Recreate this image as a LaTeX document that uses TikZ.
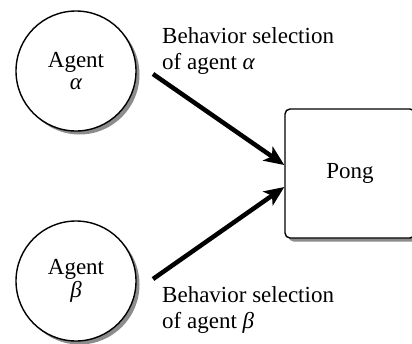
\documentclass[tikz,border=0pt]{standalone}
\usepackage{fontspec}
\setmainfont{Liberation Serif}
\usetikzlibrary{arrows.meta,shadows}
\begin{document}
\begin{tikzpicture}[x=1pt,y=-1pt,
  every node/.style={font=\fontsize{23}{26.5}\selectfont},
  shad/.style={drop shadow={shadow xshift=3.5pt,shadow yshift=-3.5pt,fill=black!45,opacity=1}},
  agent/.style={circle,draw,line width=1.4pt,fill=white,minimum size=120pt,inner sep=0pt,align=center,shad},
  env/.style={rectangle,draw,line width=1.4pt,fill=white,rounded corners=5pt,minimum width=130pt,minimum height=129pt,shad},
  arr/.style={line width=4.5pt,-{Stealth[length=20pt,width=17pt,inset=5pt]}},
  lbl/.style={anchor=west,align=left,inner sep=0pt}]
\useasboundingbox (0,0) rectangle (412,343);
\node[agent] (a) at (76,71) {Agent\\[-4pt]\textit{α}};
\node[agent] (b) at (76,281) {Agent\\[-4pt]\textit{β}};
\node[env] (pong) at (350,173.5) {\raisebox{-3pt}{Pong}};
\coordinate (s1) at (153,74);
\coordinate (s2) at (153,279);
\draw[arr] (s1) -- ([yshift=8.5pt]pong.west);
\draw[arr] (s2) -- ([yshift=-13.5pt]pong.west);
\node[lbl] (l1) at (162,51) {Behavior selection\\of agent \textit{α}};
\node[lbl] (l2) at (162,310) {Behavior selection\\of agent \textit{β}};
\end{tikzpicture}
\end{document}
